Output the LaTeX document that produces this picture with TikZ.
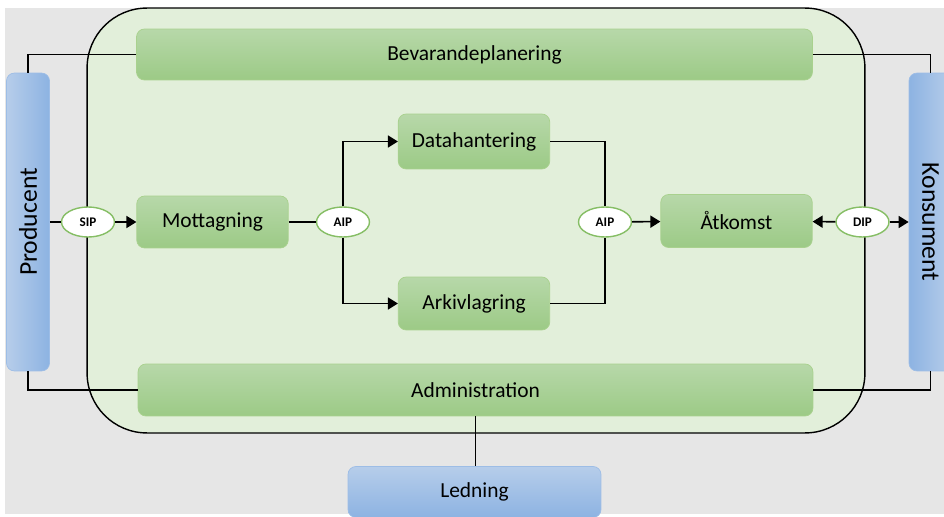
\documentclass[tikz,border=0pt]{standalone}
\usepackage{fontspec}
\setmainfont{Carlito}
\usepackage{xcolor}
\usepackage{tikz}
\usetikzlibrary{positioning,arrows.meta,shapes.geometric}
\definecolor{bggray}{HTML}{E6E6E6}
\definecolor{oaisfill}{HTML}{E2EFDA}
\definecolor{greentop}{HTML}{B7D8A9}
\definecolor{greenbot}{HTML}{9CCA86}
\definecolor{greenline}{HTML}{A9D18E}
\definecolor{bluelight}{HTML}{B6CDEA}
\definecolor{bluedark}{HTML}{8DB3E2}
\definecolor{blueline}{HTML}{9DBDE6}
\definecolor{pkgline}{HTML}{86BE65}

\begin{document}
\begin{tikzpicture}
		[x=0.02cm,y=-0.02cm,
		font=\fontsize{12.2}{14}\selectfont,
		funcbox/.style={rounded corners=4.5pt,draw=greenline,top color=greentop,bottom color=greenbot,minimum width=3.03cm,minimum height=1.06cm,inner sep=0pt},
		rolebox/.style={rounded corners=4.5pt,draw=blueline,inner sep=0pt},
		infopkg/.style={ellipse,draw=pkgline,fill=white,line width=0.8pt,minimum width=1.06cm,minimum height=0.6cm,inner sep=0pt,font=\fontsize{7.5}{9}\selectfont\bfseries},
		flow/.style={line width=0.9pt,-{Triangle[length=0.2cm,width=0.24cm]}},
		link/.style={line width=0.9pt}]
		\clip (0,0) rectangle (944,517);
		\fill[bggray] (5,8) rectangle (944,514);
		\node[draw,line width=0.8pt,fill=oaisfill,rounded corners=1.2cm,minimum width=15.56cm,minimum height=8.5cm] (oais) at (476,220.5) {};
		\node[funcbox,minimum width=13.52cm,minimum height=1.02cm] (plan) at (474.5,54.5) {Bevarandeplanering};
		\node[funcbox,minimum height=1.04cm] (mott) at (212.5,222) {Mottagning};
		\node[funcbox,minimum height=1.1cm] (data) at (474,141.5) {Datahantering};
		\node[funcbox] (arkiv) at (474,303.5) {Arkivlagring};
		\node[funcbox] (atk) at (736.5,221) {Åtkomst};
		\node[funcbox,minimum width=13.5cm,minimum height=1.04cm] (admin) at (475.5,390) {Administration};
		\node[rolebox,left color=bluelight,right color=bluedark,minimum width=0.86cm,minimum height=5.96cm,font=\fontsize{14.6}{16}\selectfont] (prod) at (28,222) {\rotatebox{90}{Producent}};
		\node[rolebox,left color=bluedark,right color=bluelight,minimum width=0.86cm,minimum height=5.96cm,font=\fontsize{14.6}{16}\selectfont] (kons) at (930.5,222) {\rotatebox{-90}{Konsument}};
		\node[rolebox,top color=bluelight,bottom color=bluedark,minimum width=5.06cm,minimum height=1.02cm] (led) at (474.5,492) {Ledning};
		\node[infopkg] (sip) at (88,222) {SIP};
		\node[infopkg] (aipin) at (343,222) {AIP};
		\node[infopkg] (aipout) at (605,222) {AIP};
		\node[infopkg] (dip) at (862.5,222) {DIP};
		\draw[link] (plan.west) -| (prod.north);
		\draw[link] (plan.east) -| (kons.north);
		\draw[link] (admin.west) -| (prod.south);
		\draw[link] (admin.east) -| (kons.south);
		\draw[link] (admin.south) -- (admin.south |- led.north);
		\draw[link] (prod) -- (sip);
		\draw[flow] (sip) -- (mott);
		\draw[link] (mott) -- (aipin);
		\draw[flow] (aipin) |- (data);
		\draw[flow] (aipin) |- (arkiv);
		\draw[link] (data) -| (aipout);
		\draw[link] (arkiv) -| (aipout);
		\draw[flow] (aipout) -- (atk);
		\draw[flow] (dip) -- (atk);
		\draw[flow] (dip) -- (kons);
\end{tikzpicture}
\end{document}
